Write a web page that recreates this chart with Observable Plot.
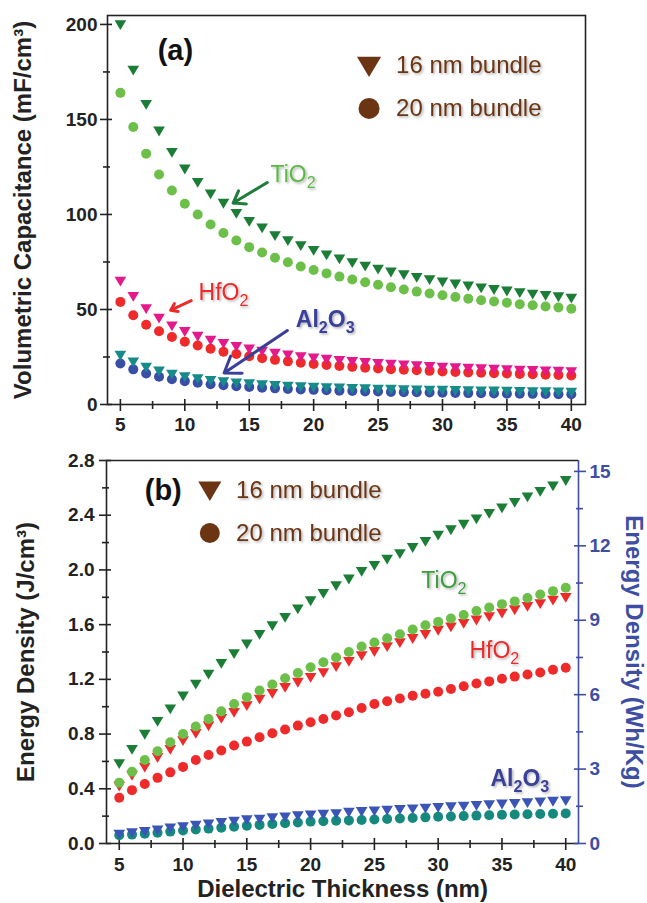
<!DOCTYPE html>
<html>
<head>
<meta charset="utf-8">
<script src="https://cdn.jsdelivr.net/npm/d3@7"></script>
<script src="https://cdn.jsdelivr.net/npm/@observablehq/plot@0.6"></script>
<style>
  body { margin: 0; background: #fff; }
  #chart { position: relative; width: 647px; height: 903px; background: #fff; }
  #chart svg { display: block; }
</style>
</head>
<body>
<div id="chart"></div>
<script>
// ---------- data ----------
const thickness = [5,6,7,8,9,10,11,12,13,14,15,16,17,18,19,20,21,22,23,24,25,26,27,28,29,30,31,32,33,34,35,36,37,38,39,40];

// (a) Volumetric capacitance (mF/cm3)
const capTiO2_16 = [200,176,158,144,132.8,124,117,110.9,106,100.7,96.5,93,89,86.3,83.7,81.2,78.8,76.7,74.7,72.9,71.3,69.8,68.4,67,65.8,64.6,63.5,62.5,61.5,60.6,59.8,59,58.2,57.5,56.8,56.1];
const capTiO2_20 = [164,146,132,121,112.6,105.6,100,94.7,90.2,86.3,82.8,80,77.2,74.9,72.6,70.8,69,67.3,65.8,64.3,63,61.7,60.5,59.4,58.4,57.5,56.6,55.7,54.9,54.2,53.5,52.8,52.2,51.6,51,50.4];
const capHfO2_16 = [65,57,50.5,45.5,41.5,38.5,36,34,32.2,30.7,29.4,28.2,27.1,26.2,25.3,24.6,23.9,23.3,22.7,22.2,21.7,21.3,20.9,20.5,20.1,19.8,19.5,19.2,18.9,18.7,18.4,18.2,18,17.8,17.6,17.4];
const capHfO2_20 = [54,47,42,38.5,35.5,33,31,29.3,27.8,26.6,25.4,24.4,23.5,22.7,22,21.3,20.8,20.3,19.8,19.4,19,18.6,18.3,18,17.7,17.4,17.1,16.9,16.7,16.5,16.3,16.1,15.9,15.7,15.5,15.3];
const capAl2O3_16 = [26,22.5,19.8,17.7,16.1,14.8,13.7,12.8,12.1,11.5,11,10.5,10.1,9.8,9.5,9.2,9,8.8,8.6,8.4,8.2,8.1,7.9,7.8,7.7,7.6,7.5,7.4,7.3,7.2,7.1,7,6.9,6.8,6.7,6.6];
const capAl2O3_20 = [21.6,18.5,16.3,14.6,13.3,12.3,11.4,10.7,10.1,9.6,9.2,8.8,8.5,8.2,7.9,7.7,7.5,7.3,7.1,6.9,6.8,6.6,6.5,6.4,6.3,6.2,6.1,6,5.9,5.8,5.7,5.65,5.6,5.5,5.45,5.4];

// (b) Energy density (J/cm3)
const enTiO2_16 = [0.585,0.69,0.80,0.894,0.985,1.08,1.167,1.24,1.318,1.39,1.46,1.53,1.594,1.655,1.716,1.776,1.83,1.886,1.935,1.99,2.035,2.08,2.12,2.165,2.21,2.255,2.295,2.335,2.375,2.415,2.455,2.495,2.535,2.575,2.615,2.655];
const enTiO2_20 = [0.445,0.525,0.61,0.674,0.74,0.80,0.855,0.91,0.966,1.02,1.07,1.118,1.162,1.208,1.247,1.289,1.325,1.36,1.40,1.44,1.47,1.5,1.53,1.565,1.595,1.62,1.645,1.67,1.70,1.725,1.75,1.77,1.795,1.82,1.845,1.87];
const enHfO2_16 = [0.42,0.5,0.56,0.63,0.69,0.753,0.806,0.862,0.916,0.96,1.009,1.057,1.098,1.142,1.18,1.216,1.25,1.294,1.333,1.374,1.405,1.44,1.47,1.50,1.53,1.56,1.585,1.61,1.635,1.66,1.685,1.71,1.735,1.755,1.78,1.80];
const enHfO2_20 = [0.335,0.39,0.435,0.48,0.52,0.56,0.61,0.647,0.68,0.716,0.745,0.777,0.806,0.833,0.862,0.887,0.91,0.936,0.96,0.99,1.02,1.04,1.06,1.08,1.095,1.11,1.13,1.15,1.17,1.185,1.205,1.22,1.235,1.25,1.27,1.285];
const enAl2O3_16 = [0.07,0.08,0.09,0.10,0.115,0.125,0.135,0.145,0.155,0.165,0.175,0.18,0.19,0.195,0.205,0.21,0.215,0.22,0.23,0.235,0.24,0.245,0.25,0.255,0.26,0.265,0.27,0.275,0.28,0.285,0.29,0.295,0.30,0.305,0.31,0.315];
const enAl2O3_20 = [0.06,0.065,0.072,0.079,0.087,0.095,0.102,0.109,0.116,0.123,0.13,0.136,0.142,0.148,0.154,0.16,0.163,0.166,0.169,0.172,0.175,0.179,0.183,0.187,0.191,0.195,0.198,0.201,0.204,0.207,0.21,0.212,0.214,0.216,0.218,0.22];

// ticks
const xMajor = [5,10,15,20,25,30,35,40];
const xMinor = [7.5,12.5,17.5,22.5,27.5,32.5,37.5];
const capMajor = [0,50,100,150,200];
const capMinor = [25,75,125,175];
const enMajor = [0.0,0.4,0.8,1.2,1.6,2.0,2.4,2.8];
const enMinor = [0.2,0.6,1.0,1.4,1.8,2.2,2.6];
const whMajor = [0,3,6,9,12,15];
const whMinor = [1.5,4.5,7.5,10.5,13.5];

// text
const titleCap = "Volumetric Capacitance (mF/cm³)";
const titleEnLeft = "Energy Density (J/cm³)";
const titleEnRight = "Energy Density (Wh/Kg)";
const titleX = "Dielectric Thickness (nm)";
const legendLabels = ["16 nm bundle", "20 nm bundle"];

// annotations (data coordinates)
const capLabelsPlain = [
  {x: 18.4, y: 121, text: "TiO₂", color: "#5cb846"},
  {x: 13.0, y: 59, text: "HfO₂", color: "#ec2a2a"}
];
const capLabelsBold = [
  {x: 20.9, y: 44.5, text: "Al₂O₃", color: "#3a3f98"}
];
const capArrows = [
  {x1: 16.4, y1: 116.8, x2: 13.75, y2: 106, color: "#1e7d3a"},
  {x1: 10.5, y1: 54.7, x2: 8.9, y2: 49.6, color: "#ec2a2a"},
  {x1: 17.96, y1: 38.9, x2: 13.05, y2: 16.6, color: "#3a3f98"}
];
const enLabelsPlain = [
  {x: 30.45, y: 1.92, text: "TiO₂", color: "#3d9e3d"},
  {x: 34.4, y: 1.41, text: "HfO₂", color: "#ec2a2a"}
];
const enLabelsBold = [
  {x: 36.4, y: 0.475, text: "Al₂O₃", color: "#3a3f98"}
];
const capLegend = {x: 24.3, yTri: 178.4, yCirc: 155.8, xText: 26.4};
const enLegend = {x: 12.1, yTri: 2.585, yCirc: 2.27, xText: 14.16};
const capTag = {x: 9.27, y: 186, text: "(a)"};
const enTag = {x: 8.45, y: 2.58, text: "(b)"};

// scale extents
const xDomTop = [4, 41.1];
const capDom = [0, 204.7];
const xDomBot = [4, 41];
const enDom = [0, 2.8];
const whAtTop = 15.44; // Wh/kg at top of right axis (= 2.8 J/cm3)

// ---------- helpers ----------
const FONT = "'Liberation Sans', Arial, Helvetica, sans-serif";
const C = {
  dkgreen: "#1b7d36", ltgreen: "#6cc04a", magenta: "#e3198c", red: "#ee2a2a",
  teal: "#178a8a", blueC: "#3a4ea8", blueT: "#3a55b6", tealC: "#16897f",
  brown: "#6b3513", axisBlue: "#3d4ea3", ink: "#222"
};
const rows = (vals) => thickness.map((t, i) => ({t, v: vals[i]}));
const triDown = {
  draw(ctx, size) {
    const r = Math.sqrt(size / Math.PI);
    const w = 1.1 * r, t = 0.8 * r, b = 1.05 * r;
    ctx.moveTo(-w, -t); ctx.lineTo(w, -t); ctx.lineTo(0, b); ctx.closePath();
  }
};
const tri = (vals, fill, r = 5.3) => Plot.dot(rows(vals), {x: "t", y: "v", r, fill, symbol: triDown});
const circ = (vals, fill, r = 5) => Plot.dot(rows(vals), {x: "t", y: "v", r, fill, symbol: "circle"});
const labelMarks = (plain, bold) => [
  Plot.text(plain, {x: "x", y: "y", text: "text", fill: "color", fontWeight: "normal", fontSize: 23, className: "shadowed"}),
  Plot.text(bold, {x: "x", y: "y", text: "text", fill: "color", fontWeight: "bold", fontSize: 23, className: "shadowed"})
];
const legendMarks = (lg, r) => [
  Plot.dot([lg], {x: "x", y: "yTri", r: r + 0.5, symbol: triDown, fill: C.brown}),
  Plot.dot([lg], {x: "x", y: "yCirc", r, symbol: "circle", fill: C.brown}),
  Plot.text([{...lg, y: lg.yTri, s: legendLabels[0]}, {...lg, y: lg.yCirc, s: legendLabels[1]}],
    {x: "xText", y: "y", text: "s", textAnchor: "start", fontSize: 24, fontWeight: "normal", fill: C.brown, className: "shadowed"})
];

// ---------- panel (a) ----------
const topPlot = Plot.plot({
  width: 647, height: 440,
  marginLeft: 107, marginRight: 62, marginTop: 15, marginBottom: 36,
  style: {fontFamily: FONT, fontSize: "19px", fontWeight: "bold", color: C.ink, background: "white", overflow: "visible"},
  x: {domain: xDomTop, label: null},
  y: {domain: capDom, label: null},
  marks: [
    Plot.frame({stroke: C.ink, strokeWidth: 1.6}),
    Plot.axisX({ticks: xMajor, tickSize: 12, dy: -5, tickPadding: 6, strokeWidth: 1.6, label: null, tickFormat: d => String(d)}),
    Plot.axisX({ticks: xMinor, tickSize: 8, dy: -3, strokeWidth: 1.6, label: null, tickFormat: () => ""}),
    Plot.axisY({ticks: capMajor, tickSize: 12, dx: 5, tickPadding: 3, strokeWidth: 1.6, label: null, tickFormat: d => String(d)}),
    Plot.axisY({ticks: capMinor, tickSize: 7, dx: 3, strokeWidth: 1.6, label: null, tickFormat: () => ""}),
    Plot.text([titleCap], {frameAnchor: "left", dx: -84, rotate: -90, textAnchor: "middle", lineAnchor: "middle", text: d => d, fontSize: 24, fontWeight: "bold", fill: C.ink}),
    circ(capTiO2_20, C.ltgreen),
    tri(capTiO2_16, C.dkgreen),
    circ(capHfO2_20, C.red),
    tri(capHfO2_16, C.magenta),
    circ(capAl2O3_20, C.blueC),
    tri(capAl2O3_16, C.teal),
    Plot.arrow(capArrows, {x1: "x1", y1: "y1", x2: "x2", y2: "y2", stroke: "color", strokeWidth: 3, headLength: 9, headAngle: 70}),
    ...labelMarks(capLabelsPlain, capLabelsBold),
    Plot.text([capTag], {x: "x", y: "y", text: "text", fontSize: 29, fontWeight: "bold", fill: "#111"}),
    ...legendMarks(capLegend, 10.5)
  ]
});

// ---------- panel (b) ----------
const whPerJ = whAtTop / enDom[1];
const botPlot = Plot.plot({
  width: 647, height: 463,
  marginLeft: 106, marginRight: 69, marginTop: 20, marginBottom: 60,
  style: {fontFamily: FONT, fontSize: "19px", fontWeight: "bold", color: C.ink, background: "white", overflow: "visible"},
  x: {domain: xDomBot, label: null},
  y: {domain: enDom, label: null},
  marks: [
    Plot.ruleY([enDom[1]], {stroke: C.ink, strokeWidth: 1.6}),
    Plot.ruleY([enDom[0]], {stroke: C.ink, strokeWidth: 1.6}),
    Plot.ruleX([xDomBot[0]], {stroke: C.ink, strokeWidth: 1.6}),
    Plot.ruleX([xDomBot[1]], {stroke: C.axisBlue, strokeWidth: 1.6}),
    Plot.axisX({ticks: xMajor, tickSize: 12, dy: -5, tickPadding: 7, strokeWidth: 1.6, label: null, tickFormat: d => String(d)}),
    Plot.axisX({ticks: xMinor, tickSize: 8, dy: -3, strokeWidth: 1.6, label: null, tickFormat: () => ""}),
    Plot.axisY({ticks: enMajor, tickSize: 12, dx: 5, tickPadding: 5, strokeWidth: 1.6, label: null, tickFormat: d => d.toFixed(1)}),
    Plot.axisY({ticks: enMinor, tickSize: 7, dx: 3, strokeWidth: 1.6, label: null, tickFormat: () => ""}),
    Plot.axisY({anchor: "right", ticks: whMajor.map(w => w / whPerJ), tickSize: 12, dx: -5, tickPadding: 4, strokeWidth: 1.6, color: C.axisBlue, label: null, tickFormat: d => String(Math.round(d * whPerJ))}),
    Plot.axisY({anchor: "right", ticks: whMinor.map(w => w / whPerJ), tickSize: 7, dx: -3, strokeWidth: 1.6, color: C.axisBlue, label: null, tickFormat: () => ""}),
    Plot.text([titleEnLeft], {frameAnchor: "left", dx: -80, rotate: -90, textAnchor: "middle", lineAnchor: "middle", text: d => d, fontSize: 24, fontWeight: "bold", fill: C.ink}),
    Plot.text([titleEnRight], {frameAnchor: "right", dx: 55, rotate: 90, textAnchor: "middle", lineAnchor: "middle", text: d => d, fontSize: 24, fontWeight: "bold", fill: C.axisBlue}),
    Plot.text([titleX], {frameAnchor: "bottom", dy: 46, textAnchor: "middle", lineAnchor: "middle", text: d => d, fontSize: 24, fontWeight: "bold", fill: C.ink}),
    tri(enTiO2_16, C.dkgreen),
    tri(enHfO2_16, C.red),
    circ(enTiO2_20, C.ltgreen),
    circ(enHfO2_20, C.red),
    circ(enAl2O3_20, C.tealC),
    tri(enAl2O3_16, C.blueT),
    ...labelMarks(enLabelsPlain, enLabelsBold),
    Plot.text([enTag], {x: "x", y: "y", text: "text", fontSize: 29, fontWeight: "bold", fill: "#111"}),
    ...legendMarks(enLegend, 10)
  ]
});

// ---------- post-processing: subscripts and soft text shadow ----------
function finish(svg, id) {
  const s = d3.select(svg);
  const f = s.insert("defs", ":first-child").append("filter").attr("id", id)
    .attr("x", "-10%").attr("y", "-20%").attr("width", "130%").attr("height", "150%");
  f.append("feDropShadow").attr("dx", 1.5).attr("dy", 1.5).attr("stdDeviation", 1.2)
    .attr("flood-color", "#000").attr("flood-opacity", 0.3);
  s.selectAll("g.shadowed, .shadowed").attr("filter", `url(#${id})`);
  const subMap = {"₂": "2", "₃": "3"};
  s.selectAll("text").each(function () {
    const txt = this.textContent;
    if (!/[₂₃]/.test(txt)) return;
    const node = d3.select(this);
    node.text(null);
    let down = false;
    for (const ch of txt) {
      if (subMap[ch]) {
        node.append("tspan").attr("dy", down ? null : 6).attr("font-size", "70%").text(subMap[ch]);
        down = true;
      } else {
        node.append("tspan").attr("dy", down ? -6 : null).text(ch);
        down = false;
      }
    }
  });
}
finish(topPlot, "shA");
finish(botPlot, "shB");

const host = document.getElementById("chart");
host.appendChild(topPlot);
host.appendChild(botPlot);
</script>
</body>
</html>
